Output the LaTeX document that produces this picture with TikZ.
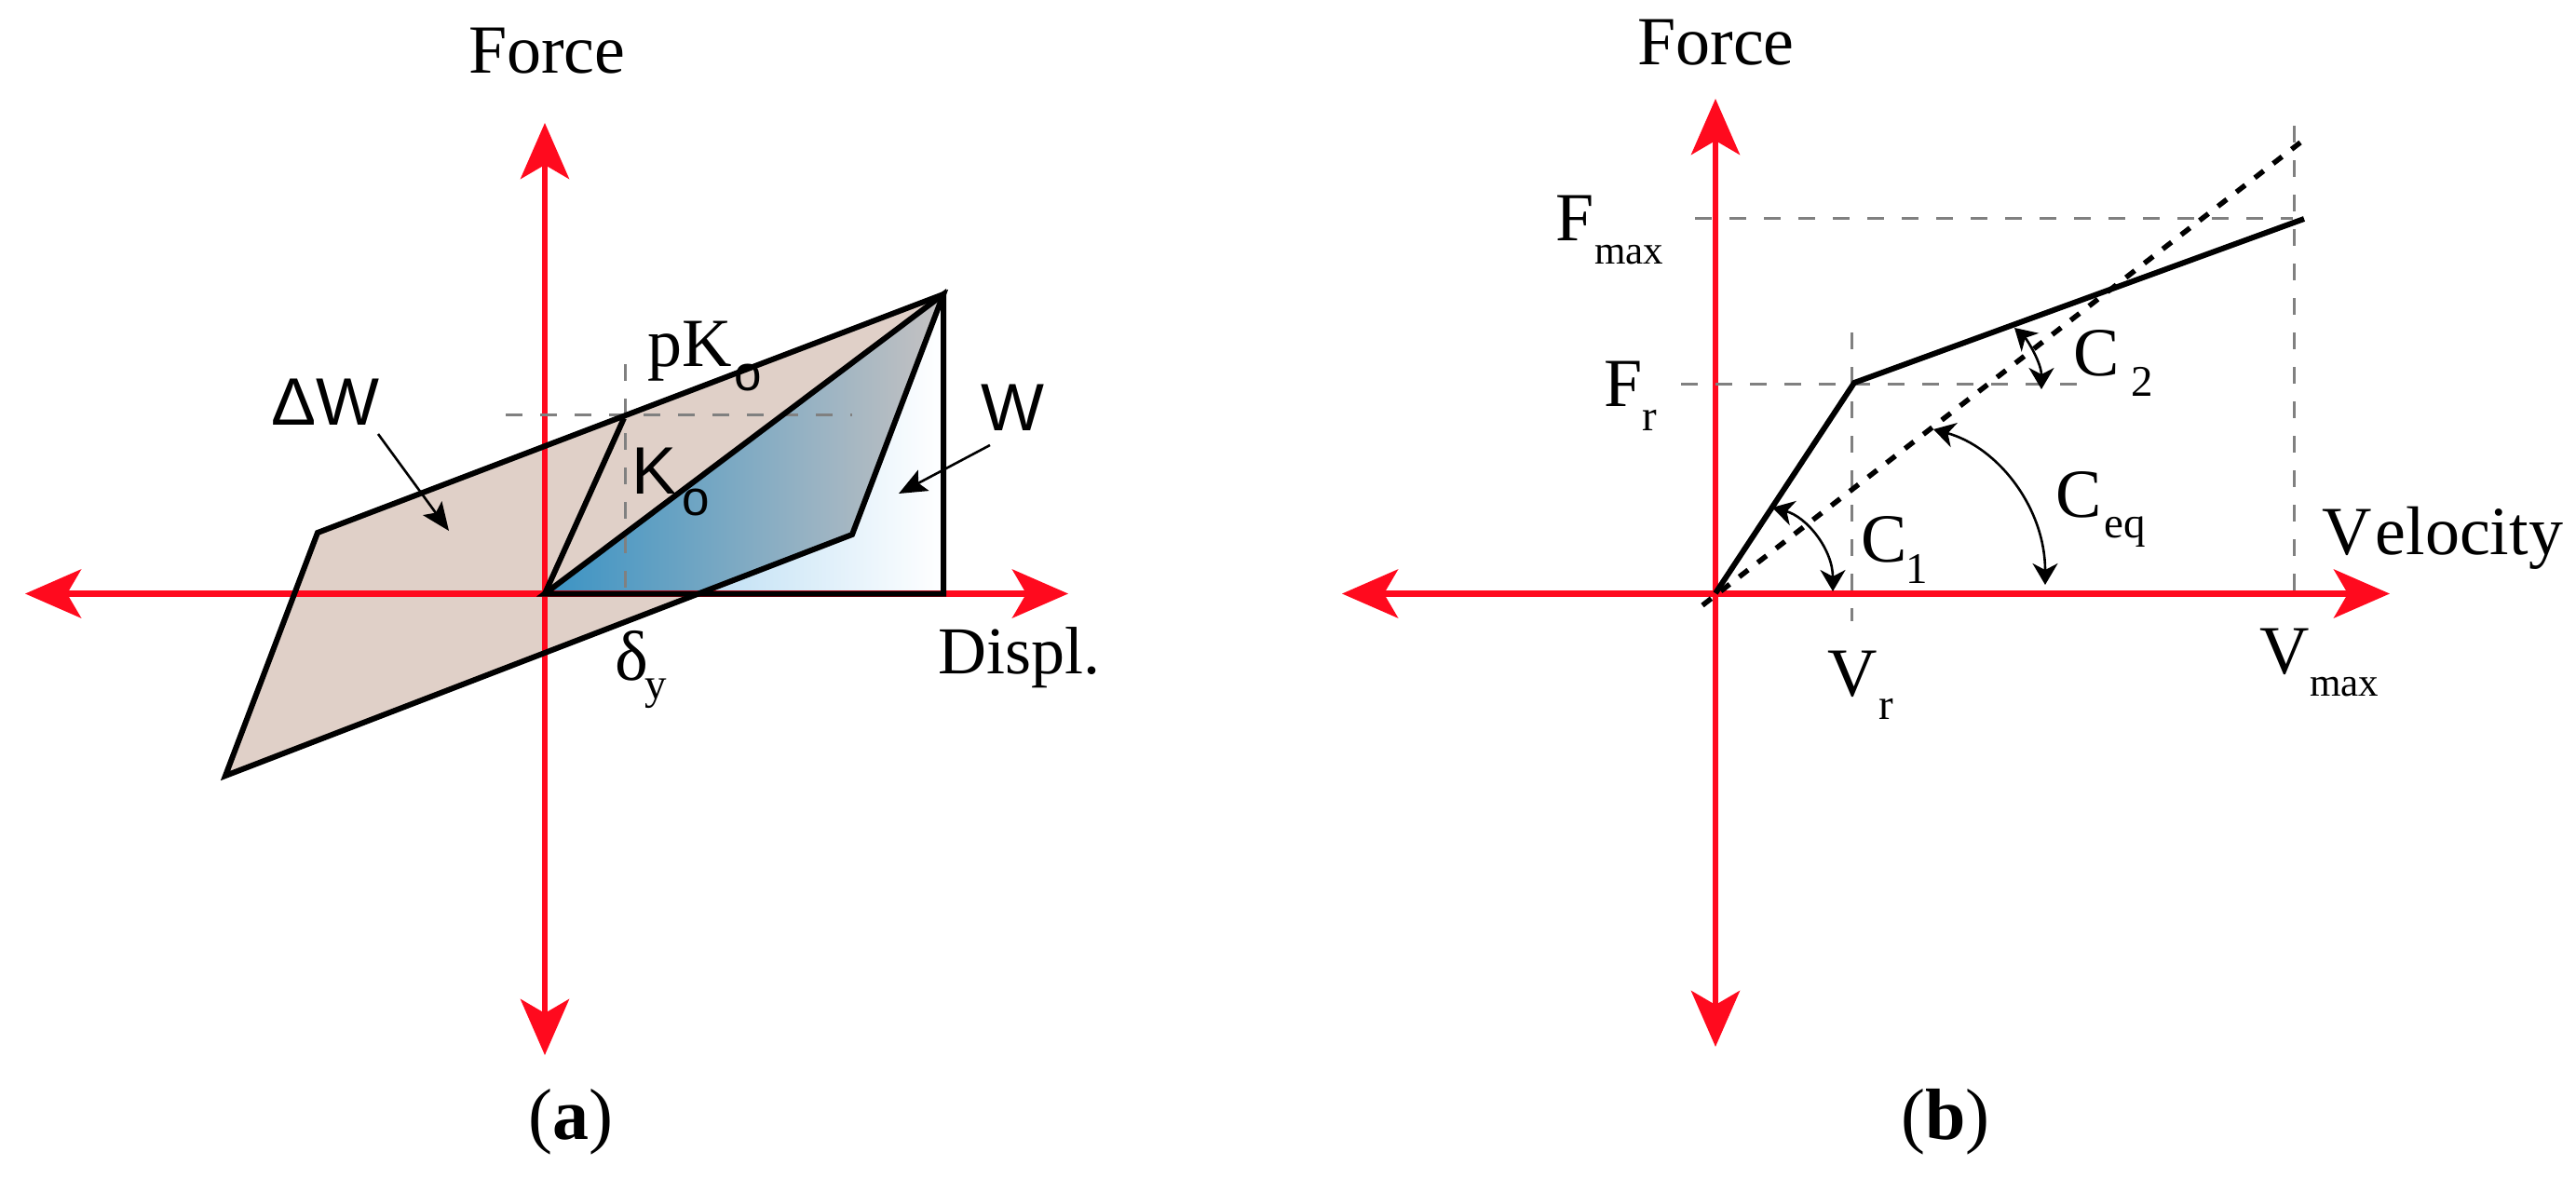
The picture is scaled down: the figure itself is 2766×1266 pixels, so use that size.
\documentclass[tikz,border=0pt]{standalone}
\usepackage{fontspec}
\setmainfont{Liberation Serif}
\newfontfamily\hsans{Liberation Sans}
\usetikzlibrary{arrows.meta}
\definecolor{beige}{HTML}{E0D0C8}
\definecolor{axred}{HTML}{FF0A1E}
\definecolor{paleblue}{HTML}{BEDFF4}
\definecolor{deepblue}{HTML}{3A93C4}
\definecolor{warmgrey}{HTML}{C6C2C2}
\tikzset{
 x=1pt,y=-1pt,
 lab/.style={anchor=base west,inner sep=0pt,font=\fontsize{74}{74}\selectfont},
 sublab/.style={anchor=base west,inner sep=0pt,font=\fontsize{47}{47}\selectfont},
 maxlab/.style={anchor=base west,inner sep=0pt,font=\fontsize{43}{43}\selectfont},
 slab/.style={anchor=base west,inner sep=0pt,font=\hsans\fontsize{72}{72}\selectfont},
 ssub/.style={anchor=base west,inner sep=0pt,font=\hsans\fontsize{53}{53}\selectfont},
 captionlab/.style={anchor=base,inner sep=0pt,font=\fontsize{78}{78}\selectfont},
 axis/.style={draw=axred,line width=6.5pt,{Stealth[length=60pt,width=52pt,inset=15pt,fill=axred]}-{Stealth[length=60pt,width=52pt,inset=15pt,fill=axred]}},
 curve/.style={draw=black,line width=6pt,line join=miter},
 guide/.style={draw=black!50,line width=3pt,dash pattern=on 18pt off 19pt},
 thickdash/.style={draw=black,line width=5.5pt,dash pattern=on 12pt off 13pt},
 pointer/.style={draw=black,line width=2.6pt,-{Stealth[length=30pt,width=25pt,inset=6pt]}},
 dblarc/.style={draw=black,line width=2.6pt,{Stealth[length=23pt,width=27pt,inset=7pt]}-{Stealth[length=23pt,width=27pt,inset=7pt]}},
}
\begin{document}
\begin{tikzpicture}
\useasboundingbox (0,0) rectangle (2766,1266);
% panel a points
\coordinate (O) at (585,637.5);
\coordinate (T) at (1013,316);
\coordinate (UL) at (341,572);
\coordinate (LL) at (242,833);
\coordinate (IN) at (915,574);
\coordinate (Y) at (670,449);
\coordinate (C) at (752,637.5);
\coordinate (R) at (1013,637.5);
% fills
\fill[beige] (LL) -- (UL) -- (T) -- (IN) -- (C) -- cycle;
\shade[left color=paleblue,right color=white] (C) -- (IN) -- (T) -- (R) -- cycle;
\shade[left color=deepblue,right color=warmgrey] (O) -- (T) -- (IN) -- (C) -- cycle;
% axes a
\coordinate (axl) at (27,637.5); \coordinate (axr) at (1147,637.5);
\coordinate (ayt) at (585,132); \coordinate (ayb) at (585,1133);
\draw[axis] (axl) -- (axr);
\draw[axis] (ayt) -- (ayb);
% guides a
\coordinate (ga1) at (543,445); \coordinate (ga2) at (915,445);
\coordinate (ga3) at (671,391); \coordinate (ga4) at (671,637);
\draw[guide] (ga1) -- (ga2);
\draw[guide] (ga3) -- (ga4);
% curves a
\draw[curve] (LL) -- (UL) -- (T) -- (IN) -- cycle;
\draw[curve] (O) -- (Y);
\draw[curve] (O) -- (T) -- (R) -- cycle;
% pointers
\coordinate (p1) at (406,466); \coordinate (p2) at (482,570);
\coordinate (p3) at (1063,478); \coordinate (p4) at (965,530);
\draw[pointer] (p1) -- (p2);
\draw[pointer] (p3) -- (p4);
% labels a
\node[lab] (fa) at (503,78) {Force};
\node[slab] (dw) at (291,456) {ΔW};
\node[lab] (pk) at (695,393) {pK};
\node[ssub] (pko) at (788,419) {o};
\node[slab] (k) at (678,530) {K};
\node[ssub] (ko) at (732,553) {o};
\node[slab] (w) at (1053,462) {W};
\node[lab,font=\fontsize{76}{76}\selectfont] (dy) at (660,730) {δ};
\node[sublab] (dys) at (692,750) {y};
\node[lab,font=\fontsize{72}{72}\selectfont] (dp) at (1007,723) {Displ.};
\node[captionlab] (ca) at (613,1223) {(\textbf{a})};
% panel b points
\coordinate (bO) at (1842,637);
\coordinate (bB) at (1991,411);
\coordinate (bE) at (2474,235);
\coordinate (bd1) at (1828,650);
\coordinate (bd2) at (2470,153);
% axes b
\coordinate (bxl) at (1441,637.5); \coordinate (bxr) at (2566,637.5);
\coordinate (byt) at (1842,106); \coordinate (byb) at (1842,1124);
\draw[axis] (bxl) -- (bxr);
\draw[axis] (byt) -- (byb);
% guides b
\coordinate (g1) at (1820,234); \coordinate (g2) at (2462,234);
\coordinate (g3) at (1805,412); \coordinate (g4) at (2243,412);
\coordinate (g5) at (1988,357); \coordinate (g6) at (1988,667);
\coordinate (g7) at (2463,135); \coordinate (g8) at (2463,647);
\draw[guide] (g1) -- (g2);
\draw[guide] (g3) -- (g4);
\draw[guide] (g5) -- (g6);
\draw[guide] (g7) -- (g8);
% curves b
\draw[curve] (bO) -- (bB) -- (bE);
\draw[thickdash] (bd1) -- (bd2);
% angle arcs
\coordinate (a1) at (1903,545); \coordinate (a1c) at (1940,555); \coordinate (a1d) at (1968,590); \coordinate (a2) at (1968,635);
\coordinate (a3) at (2076,461); \coordinate (a3c) at (2145,480); \coordinate (a3d) at (2196,545); \coordinate (a4) at (2196,628);
\coordinate (a5) at (2163,352); \coordinate (a5c) at (2177,365); \coordinate (a5d) at (2192,390); \coordinate (a6) at (2192,418);
\draw[dblarc] (a1) .. controls (a1c) and (a1d) .. (a2);
\draw[dblarc] (a3) .. controls (a3c) and (a3d) .. (a4);
\draw[dblarc] (a5) .. controls (a5c) and (a5d) .. (a6);
% labels b
\node[lab] (fb) at (1758,69) {Force};
\node[lab] (fm) at (1670,258) {F};
\node[maxlab] (fms) at (1712,283) {max};
\node[lab] (fr) at (1722,436) {F};
\node[sublab] (frs) at (1763,462) {r};
\node[lab] (c2) at (2226,403) {C};
\node[sublab] (c2s) at (2288,425) {2};
\node[lab] (c1) at (1998,603) {C};
\node[sublab] (c1s) at (2046,626) {1};
\node[lab] (ce) at (2207,555) {C};
\node[sublab] (ces) at (2259,577) {eq};
\node[lab] (ve) at (2493,595) {V\kern4pt elocity};
\node[lab] (vr) at (1962,747) {V};
\node[sublab] (vrs) at (2017,772) {r};
\node[lab] (vm) at (2426,723) {V};
\node[maxlab] (vms) at (2480,747) {max};
\node[captionlab] (cb) at (2089,1223) {(\textbf{b})};
\end{tikzpicture}
\end{document}
